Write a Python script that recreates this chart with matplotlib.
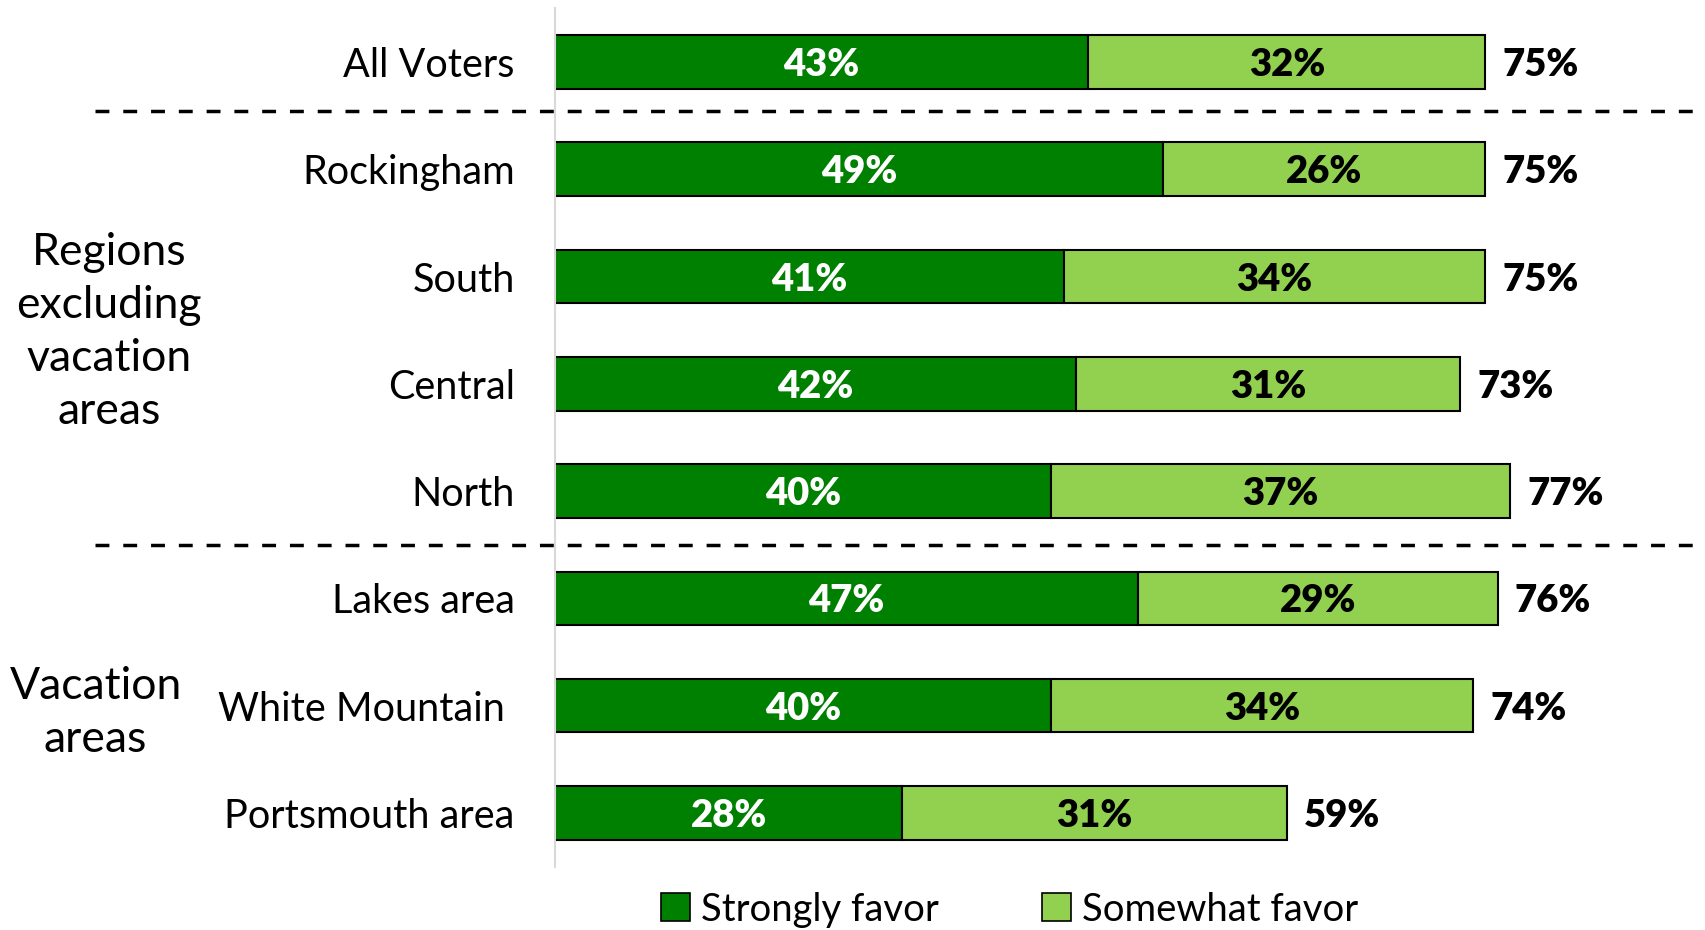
import matplotlib.pyplot as plt
from matplotlib.patches import Patch

plt.rcParams["font.family"] = ["Lato", "DejaVu Sans"]

categories = ["All Voters", "Rockingham", "South", "Central", "North",
              "Lakes area", "White Mountain ", "Portsmouth area"]
strongly = [43, 49, 41, 42, 40, 47, 40, 28]
somewhat = [32, 26, 34, 31, 37, 29, 34, 31]
totals = [75, 75, 75, 73, 77, 76, 74, 59]
groups = ["Regions\nexcluding\nvacation\nareas", "Vacation\nareas"]

dark_green = "#008000"
light_green = "#92D050"
fs = 28.5
fs_val = 27.5
fs_group = 32
fs_legend = 27.5

fig = plt.figure(figsize=(17.06, 9.30), dpi=100)
ax = fig.add_axes([0.3253, 0.0682, 0.6747, 0.9228])

y = list(range(len(categories)))
ax.barh(y, strongly, height=0.5, color=dark_green, edgecolor="black", linewidth=1.5)
ax.barh(y, somewhat, left=strongly, height=0.5, color=light_green,
        edgecolor="black", linewidth=1.5)

for i in y:
    ax.text(strongly[i] / 2, i, f"{strongly[i]}%", ha="center",
            va="center_baseline", color="white", fontsize=fs_val,
            fontweight="heavy")
    ax.text(strongly[i] + somewhat[i] / 2, i, f"{somewhat[i]}%", ha="center",
            va="center_baseline", color="black", fontsize=fs_val,
            fontweight="heavy")
    ax.text(strongly[i] + somewhat[i] + 1.4, i, f"{totals[i]}%", ha="left",
            va="center_baseline", color="black", fontsize=fs_val,
            fontweight="heavy")

ax.set_xlim(0, 92.8)
ax.set_ylim(len(categories) - 0.5, -0.5)
ax.set_yticks(y)
ax.set_yticklabels(categories, fontsize=fs)
ax.tick_params(axis="y", length=0, pad=29)
ax.set_xticks([])
for side in ["top", "right", "bottom"]:
    ax.spines[side].set_visible(False)
ax.spines["left"].set_color("#D9D9D9")
ax.spines["left"].set_linewidth(1.5)

# dashed separators between the groups
trans = ax.get_yaxis_transform()
for sep in [0.46, 4.5]:
    ax.plot([-0.40, 1.02], [sep, sep], transform=trans, color="black",
            linestyle=(0, (4, 4)), linewidth=2.5, clip_on=False)

fig.text(0.064, 0.643, groups[0], ha="center", va="center", fontsize=fs_group,
         linespacing=1.37)
fig.text(0.056, 0.233, groups[1], ha="center", va="center", fontsize=fs_group,
         linespacing=1.37)

handles = [Patch(facecolor=dark_green, edgecolor="black", linewidth=1.2),
           Patch(facecolor=light_green, edgecolor="black", linewidth=1.2)]
fig.legend(handles, ["Strongly favor", "Somewhat favor"], loc="center",
           bbox_to_anchor=(0.592, 0.022), ncol=2, frameon=False,
           fontsize=fs_legend, handlelength=0.75, handleheight=0.75,
           handletextpad=0.3, columnspacing=2.7, borderaxespad=0)

fig.savefig("out.png", dpi=100)
